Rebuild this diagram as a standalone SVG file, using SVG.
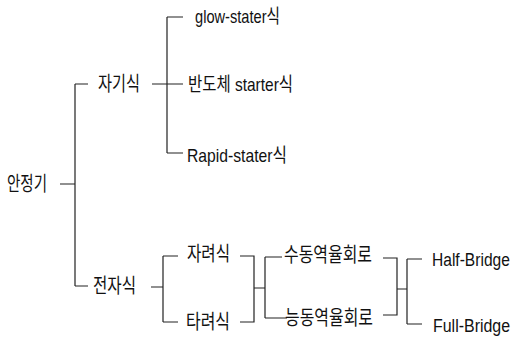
<svg xmlns="http://www.w3.org/2000/svg" width="514" height="340" viewBox="0 0 514 340">
<style>
text{font-family:"Liberation Sans","Noto Sans CJK KR",sans-serif;font-size:19px;fill:#111;}
text.k{font-size:20px;}
.c{fill:none;stroke:#222;stroke-width:1.2;}
</style>
<rect width="514" height="340" fill="#fff"/>
<g id="connectors" class="c">
<path d="M60 184H75M75 84V286M75 84H88M75 286H88"/>
<path d="M152 84H183M167 17V153M167 17H183M167 153H183"/>
<path d="M151 287H163M163 256V322M163 256H178M163 322H178"/>
<path d="M240 256H254V322H240M254 288H265M265 257V318M265 257H282M265 318H287"/>
<path d="M383 258H397V315H383M397 289H407M407 259V324M407 259H422M407 324H422"/>
</g>
<g id="n-anjeonggi"><text class="k" x="7" y="191" textLength="40" lengthAdjust="spacingAndGlyphs">안정기</text></g>
<g id="n-jagisik"><text class="k" x="98" y="91" textLength="42" lengthAdjust="spacingAndGlyphs">자기식</text></g>
<g id="n-jeonjasik"><text class="k" x="93" y="293" textLength="43" lengthAdjust="spacingAndGlyphs">전자식</text></g>
<g id="n-glow"><text x="195" y="23" textLength="85" lengthAdjust="spacingAndGlyphs">glow-stater식</text></g>
<g id="n-bandoche"><text x="188" y="91" textLength="105" lengthAdjust="spacingAndGlyphs">반도체 starter식</text></g>
<g id="n-rapid"><text x="187" y="162" textLength="100" lengthAdjust="spacingAndGlyphs">Rapid-stater식</text></g>
<g id="n-jaryeo"><text class="k" x="187" y="261" textLength="43" lengthAdjust="spacingAndGlyphs">자려식</text></g>
<g id="n-taryeo"><text class="k" x="186" y="329" textLength="44" lengthAdjust="spacingAndGlyphs">타려식</text></g>
<g id="n-sudong"><text class="k" x="284" y="262" textLength="88" lengthAdjust="spacingAndGlyphs">수동역율회로</text></g>
<g id="n-neungdong"><text class="k" x="285" y="325" textLength="88" lengthAdjust="spacingAndGlyphs">능동역율회로</text></g>
<g id="n-half"><text x="0" y="0" transform="translate(432 266) scale(0.82 1)">Half-Bridge</text></g>
<g id="n-full"><text x="0" y="0" transform="translate(433 332) scale(0.84 1)">Full-Bridge</text></g>
</svg>
